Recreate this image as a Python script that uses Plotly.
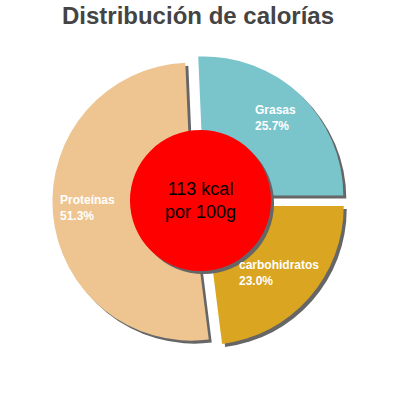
import plotly.graph_objects as go

# calorie split per 100 g
labels = ["Grasas", "carbohidratos", "Proteínas"]
values = [25.7, 23.0, 51.3]
colors = ["#7ac4cc", "#daa520", "#eec591"]
energy_text = ["113 kcal", "por 100g"]

W = H = 400
SHADOW = "#666666"


def px_dom(cx, cy, half, dx=0, dy=0):
    # pixel centre/half-size -> paper domain (y measured from top in pixels)
    x = [(cx - half + dx) / W, (cx + half + dx) / W]
    y = [1 - (cy + half + dy) / H, 1 - (cy - half + dy) / H]
    return dict(x=x, y=y)


pull = 0.055
r_pie = 139
half_pie = r_pie * (1 + pull)
pie_c = (199, 201)

fig = go.Figure()

# drop shadow, then the pie itself
for col, off in [([SHADOW] * 3, 3), (colors, 0)]:
    fig.add_trace(go.Pie(
        labels=labels, values=values, sort=False, direction="clockwise",
        rotation=-2.5, pull=[pull] * 3, marker=dict(colors=col),
        textinfo="none", hoverinfo="skip", showlegend=False,
        domain=px_dom(*pie_c, half_pie, off, off),
    ))

# red centre disc with its shadow
for col, off in [(SHADOW, 3), ("#ff0000", 0)]:
    fig.add_trace(go.Pie(
        values=[1], marker=dict(colors=[col]), textinfo="none",
        hoverinfo="skip", showlegend=False, sort=False,
        domain=px_dom(200.5, 200.5, 70.5, off, off),
    ))

# slice label positions (left edge x, middle y) in pixels
label_pos = [(253, 118), (237, 273), (58, 208)]
lab_font = dict(family="Liberation Sans, Arial", size=12, color="white",
                weight="bold")
for name, v, (x, y) in zip(labels, values, label_pos):
    fig.add_annotation(text=f"{name}<br>{v:.1f}%", x=x / W, y=1 - y / H,
                       xref="paper", yref="paper", xanchor="left",
                       yanchor="middle", align="left", showarrow=False,
                       font=lab_font)

fig.add_annotation(text="<br>".join(energy_text), x=200.5 / W,
                   y=1 - 200 / H, xref="paper", yref="paper",
                   xanchor="center", yanchor="middle", showarrow=False,
                   font=dict(family="Liberation Sans, Arial", size=18,
                             color="black"))

fig.update_layout(
    width=W, height=H,
    margin=dict(l=0, r=0, t=0, b=0),
    paper_bgcolor="white", plot_bgcolor="white",
    title=dict(text="Distribución de calorías", x=0.495, y=1 - 16 / H,
               xanchor="center", yanchor="middle",
               font=dict(family="Liberation Sans, Arial", size=24,
                         color="#444444", weight="bold")),
)

# page body has a default 8px margin; drop it so the 400px figure fits
fig.write_html("out.html", config={"displayModeBar": False},
               post_script="document.body.style.margin='0';")
